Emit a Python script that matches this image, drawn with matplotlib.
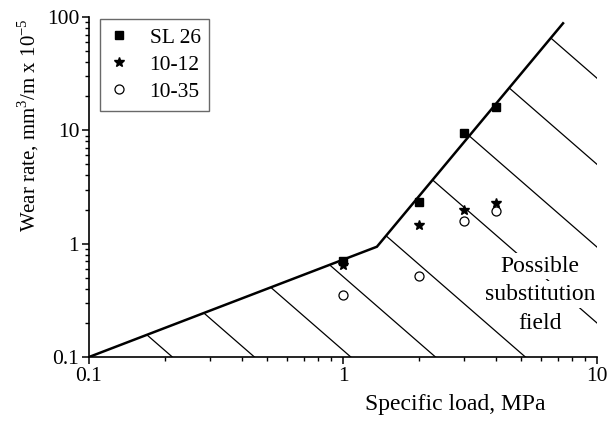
import numpy as np
import matplotlib
matplotlib.use("Agg")
import matplotlib.pyplot as plt
from matplotlib.patches import Polygon
from matplotlib.ticker import LogLocator, NullFormatter

plt.rcParams['font.family'] = ['Liberation Serif', 'DejaVu Serif']
plt.rcParams['mathtext.fontset'] = 'custom'
plt.rcParams['mathtext.rm'] = 'Liberation Serif'

# ---- data ----
load = [1, 2, 3, 4]
sl26 = [0.70, 2.35, 9.5, 16.0]
s1012 = [0.65, 1.45, 2.0, 2.3]
s1035 = [0.35, 0.52, 1.58, 1.95]

boundary_x = [0.1, 1.36, 7.35]
boundary_y = [0.1, 0.94, 88.0]

# hatch lines: log10(y) = K - slope*log10(x)
hatch_slope = 1.95
hatch_K = [-2.31, -1.68, -0.94, -0.29, 0.40, 1.25, 1.92, 2.65, 3.41]

xticks = [0.1, 1, 10]
xtick_labels = ['0.1', '1', '10']
yticks = [0.1, 1, 10, 100]
ytick_labels = ['0.1', '1', '10', '100']

field_lines = ['Possible', 'substitution', 'field']

FS = 15.5

fig = plt.figure(figsize=(6.15, 4.21), dpi=100)
ax = fig.add_axes([89/615, 1-357/421, (597-89)/615, (357-17)/421])
ax.set_xscale('log')
ax.set_yscale('log')
ax.set_xlim(0.1, 10)
ax.set_ylim(0.1, 100)

# clipping region below boundary
clip_poly = Polygon(list(zip(boundary_x, boundary_y)) + [(10, 100), (10, 0.1)],
                    closed=True, transform=ax.transData, facecolor='none', edgecolor='none')
ax.add_patch(clip_poly)
lx_ends = np.array([-1.0, 1.0])
for K in hatch_K:
    ly = K - hatch_slope * lx_ends
    ln, = ax.plot(10**lx_ends, 10**ly, color='black', lw=0.9, zorder=2)
    ln.set_clip_path(clip_poly)

ax.plot(boundary_x, boundary_y, color='black', lw=1.8, zorder=3, solid_joinstyle='miter')

ax.plot(load, sl26, linestyle='none', marker='s', ms=5.2, color='black', label='SL 26', zorder=5)
ax.plot(load, s1012, linestyle='none', marker='*', ms=7.5, color='black', label='10-12', zorder=5)
ax.plot(load, s1035, linestyle='none', marker='o', ms=6.5, mfc='white', mec='black', mew=0.9,
        label='10-35', zorder=4)

line_step = 28.5 * 72 / 100  # points
for i, t in enumerate(field_lines):
    ax.annotate(t, xy=(5.97, 0.355), xycoords='data',
                xytext=(0, (1 - i) * line_step), textcoords='offset points',
                ha='center', va='center', fontsize=17, zorder=4,
                bbox=dict(facecolor='white', edgecolor='none', pad=2.0))

for s in ['top', 'right']:
    ax.spines[s].set_visible(False)
for s in ['left', 'bottom']:
    ax.spines[s].set_linewidth(1.2)

ax.set_xticks(xticks)
ax.set_xticklabels(xtick_labels)
ax.set_yticks(yticks)
ax.set_yticklabels(ytick_labels)
ax.xaxis.set_minor_locator(LogLocator(base=10, subs=np.arange(2, 10)))
ax.yaxis.set_minor_locator(LogLocator(base=10, subs=np.arange(2, 10)))
ax.xaxis.set_minor_formatter(NullFormatter())
ax.yaxis.set_minor_formatter(NullFormatter())
ax.tick_params(which='major', direction='out', length=5, width=1.1, labelsize=FS, pad=2)
ax.tick_params(which='minor', direction='out', length=2.6, width=1.0)

ax.set_xlabel('Specific load, MPa', fontsize=17)
ax.xaxis.set_label_coords((455-89)/508, -(394-357)/340)
ax.set_ylabel('Wear rate, mm$^3$/m x 10$^{-5}$', fontsize=15)
ax.yaxis.set_label_coords((41-89)/508, 1-(125-17)/340)

leg = ax.legend(loc='upper left', bbox_to_anchor=(100/615, 1-19/421), bbox_transform=fig.transFigure,
                fontsize=FS, frameon=True, fancybox=False, handlelength=1.0, handletextpad=0.9,
                borderpad=0.4, labelspacing=0.33, borderaxespad=0, handleheight=0.7)
leg.get_frame().set_edgecolor('#444444')
leg.get_frame().set_linewidth(1.0)

fig.savefig('out.png', dpi=100)
